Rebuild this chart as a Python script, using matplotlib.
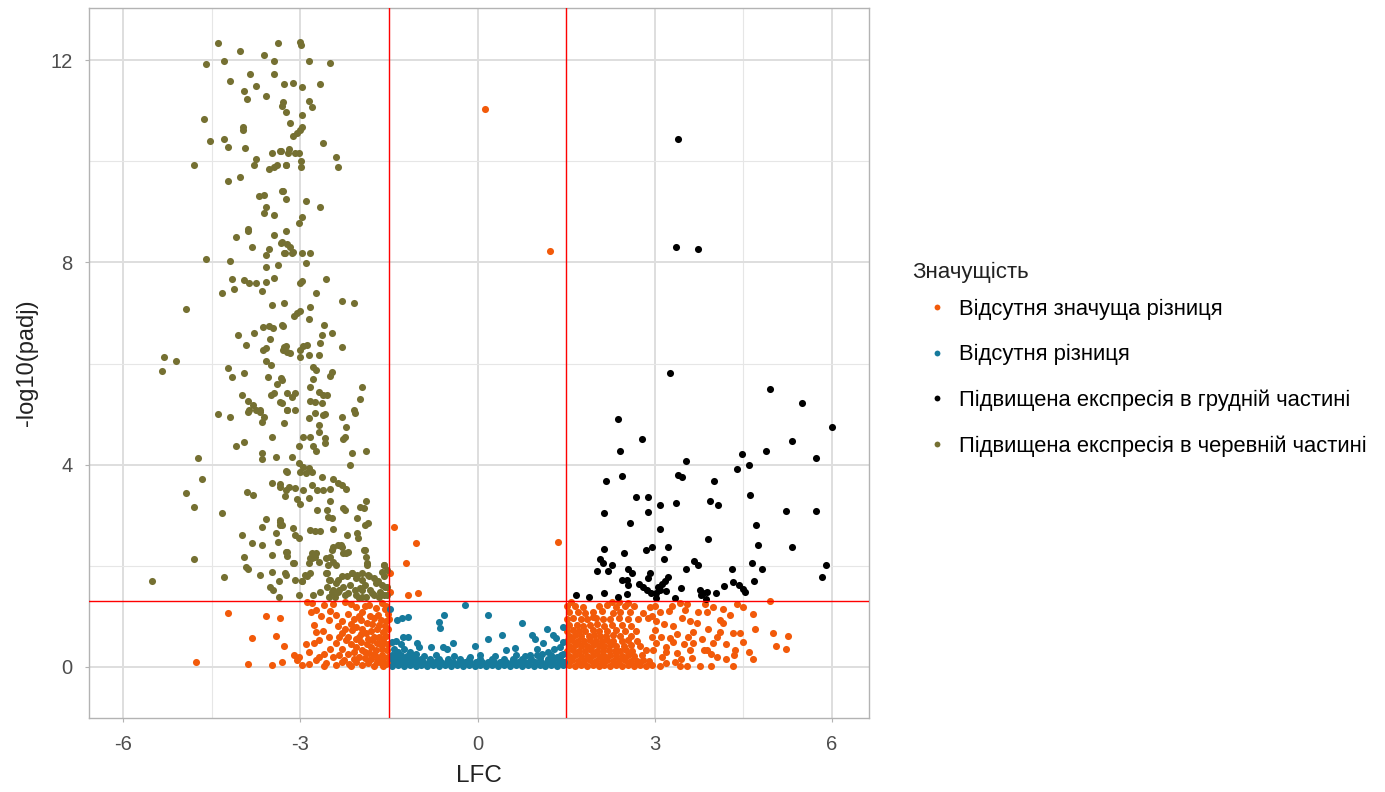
import numpy as np
import matplotlib
matplotlib.use("Agg")
import matplotlib.pyplot as plt
from matplotlib.lines import Line2D

plt.rcParams['font.family'] = ['Liberation Sans', 'DejaVu Sans']
plt.rcParams['axes.unicode_minus'] = False

# --- data (LFC, -log10(padj)) ------------------------------------------------

LFC_CUT = 1.5
P_CUT = 1.301

# upregulated in abdominal part (olive)
abdomen_up = [
    (-4.39, 12.34), (-4.02, 12.18), (-3.38, 12.34), (-3.61, 12.11), (-3.44, 11.98), (-4.60, 11.92),
    (-4.29, 11.98), (-3.85, 11.72), (-3.44, 11.72), (-4.19, 11.59), (-3.75, 11.49), (-3.28, 11.53),
    (-3.95, 11.39), (-3.90, 11.23), (-3.58, 11.28), (-3.31, 11.09), (-3.24, 10.97), (-4.63, 10.83),
    (-3.98, 10.68), (-3.97, 10.62), (-4.53, 10.40), (-4.29, 10.44), (-4.22, 10.29), (-3.93, 10.26),
    (-3.48, 10.16), (-3.33, 10.21), (-3.21, 10.17), (-3.75, 10.04), (-3.78, 9.92), (-4.80, 9.92),
    (-3.53, 9.85), (-3.44, 9.89), (-3.40, 9.92), (-3.25, 9.92), (-4.02, 9.69), (-4.22, 9.61),
    (-3.31, 9.41), (-3.24, 9.25), (-3.70, 9.32), (-3.61, 9.33), (-3.59, 9.10), (-3.61, 8.98),
    (-3.44, 8.94), (-3.88, 8.66),
    (-3.00, 12.36), (-2.99, 12.30), (-2.86, 11.98), (-2.50, 11.95), (-3.12, 11.55), (-2.98, 11.47),
    (-2.67, 11.53), (-3.29, 11.18), (-2.85, 11.20), (-2.81, 11.07), (-2.97, 10.91), (-3.17, 10.76),
    (-2.97, 10.68), (-3.00, 10.62), (-3.06, 10.56), (-3.12, 10.50), (-2.61, 10.37), (-3.34, 10.21),
    (-3.19, 10.24), (-3.09, 10.17), (-3.03, 10.16), (-3.24, 9.92), (-2.99, 10.01), (-2.99, 9.89),
    (-2.40, 10.09), (-2.36, 9.89), (-3.30, 9.41), (-2.90, 9.21), (-2.67, 9.10), (-2.98, 8.90),
    (-3.03, 8.78),
    (-3.88, 8.62), (-4.09, 8.51), (-3.82, 8.31), (-3.44, 8.54), (-3.25, 8.62), (-3.33, 8.38),
    (-3.28, 8.18), (-3.53, 8.26), (-3.58, 8.15), (-4.60, 8.07), (-4.19, 8.03), (-3.58, 7.90),
    (-3.38, 7.95), (-4.16, 7.67), (-4.12, 7.47), (-3.95, 7.65), (-3.87, 7.60), (-3.75, 7.59),
    (-3.58, 7.62), (-3.44, 7.70), (-4.33, 7.40), (-3.65, 7.43), (-4.94, 7.08), (-3.48, 7.16),
    (-3.28, 7.20), (-3.64, 6.73), (-3.53, 6.74), (-3.47, 6.70), (-3.31, 6.76), (-4.05, 6.56),
    (-3.78, 6.60), (-3.51, 6.48), (-3.92, 6.37), (-3.64, 6.27), (-3.58, 6.30), (-3.28, 6.33),
    (-3.22, 6.23), (-5.31, 6.13), (-5.11, 6.05), (-5.35, 5.85), (-3.58, 6.05), (-3.50, 5.97),
    (-4.23, 5.91), (-4.16, 5.74), (-3.96, 5.82), (-3.55, 5.74), (-3.33, 5.71), (-3.39, 5.60),
    (-3.99, 5.38), (-3.50, 5.38), (-3.44, 5.41), (-3.34, 5.23), (-3.22, 5.41), (-3.88, 5.25),
    (-3.81, 5.18), (-3.75, 5.08), (-3.69, 5.08), (-3.87, 5.08), (-4.39, 5.00), (-4.19, 4.95),
    (-3.22, 5.08),
    (-3.31, 8.41), (-3.23, 8.36), (-3.17, 8.31), (-3.12, 8.21), (-3.26, 8.19), (-3.14, 8.18),
    (-2.98, 8.19), (-2.84, 8.19), (-2.90, 7.98), (-2.98, 7.63), (-3.00, 7.59), (-2.56, 7.67),
    (-2.73, 7.40), (-2.30, 7.24), (-2.09, 7.20), (-2.84, 7.11), (-3.00, 7.04), (-3.06, 6.99),
    (-3.10, 6.94), (-2.86, 6.88), (-3.30, 6.74), (-2.60, 6.76), (-2.64, 6.56), (-2.47, 6.60),
    (-2.67, 6.40), (-2.30, 6.32), (-3.24, 6.35), (-3.29, 6.27), (-3.17, 6.21), (-2.95, 6.35),
    (-2.89, 6.37), (-3.00, 6.27), (-3.00, 6.12), (-2.86, 6.17), (-2.69, 6.17), (-2.78, 5.94),
    (-2.73, 5.87), (-2.47, 5.84), (-2.50, 5.75), (-3.31, 5.67), (-2.78, 5.69), (-2.84, 5.54),
    (-1.96, 5.54), (-2.69, 5.44), (-2.61, 5.38), (-2.55, 5.38), (-3.09, 5.41), (-3.14, 5.34),
    (-1.99, 5.29), (-2.84, 5.25), (-2.75, 5.23), (-2.64, 5.21), (-3.31, 5.21), (-3.23, 5.09),
    (-3.09, 5.09), (-2.75, 5.03), (-2.61, 4.98), (-2.30, 4.95), (-2.09, 5.08), (-2.07, 5.02),
    (-3.88, 5.05), (-3.69, 5.05), (-3.61, 4.95), (-3.65, 4.85), (-3.28, 4.82), (-3.48, 4.55),
    (-4.09, 4.36), (-3.95, 4.45), (-3.65, 4.24), (-3.65, 4.11), (-3.41, 4.15), (-4.74, 4.14),
    (-3.25, 3.88), (-4.66, 3.71), (-4.94, 3.43), (-4.80, 3.16), (-4.33, 3.04), (-3.48, 3.64),
    (-3.35, 3.55), (-3.25, 3.50), (-3.26, 3.38), (-3.90, 3.45), (-3.81, 3.40), (-3.58, 2.92),
    (-3.65, 2.76), (-3.35, 2.87), (-3.35, 2.81), (-3.99, 2.60), (-3.42, 2.64), (-3.38, 2.48),
    (-3.82, 2.45), (-3.65, 2.41), (-3.25, 2.28), (-3.22, 2.19), (-3.95, 2.18), (-3.48, 2.21),
    (-4.80, 2.13), (-3.92, 1.98), (-3.88, 1.93), (-4.29, 1.77), (-5.51, 1.69), (-3.68, 1.82),
    (-3.48, 1.88), (-3.25, 1.82), (-3.37, 1.69), (-3.51, 1.59), (-3.47, 1.52), (-3.37, 1.39),
    (-2.85, 4.92), (-2.59, 5.00), (-2.69, 4.78), (-2.69, 4.65), (-2.23, 4.75), (-2.24, 4.55),
    (-2.28, 4.50), (-2.95, 4.55), (-2.84, 4.55), (-3.03, 4.36), (-2.78, 4.36), (-2.73, 4.26),
    (-2.59, 4.52), (-2.58, 4.43), (-2.13, 4.24), (-1.89, 4.27), (-2.16, 3.99), (-3.14, 4.16),
    (-3.03, 4.04), (-2.95, 3.96), (-2.86, 3.93), (-2.81, 3.86), (-2.90, 3.83), (-3.00, 3.86),
    (-3.23, 3.86), (-2.64, 3.76), (-2.44, 3.71), (-2.36, 3.63), (-2.30, 3.60), (-2.23, 3.51),
    (-3.34, 3.62), (-3.20, 3.55), (-3.09, 3.53), (-2.95, 3.50), (-2.81, 3.60), (-2.72, 3.49),
    (-2.61, 3.50), (-2.50, 3.51), (-3.06, 3.32), (-3.00, 3.22), (-2.85, 3.35), (-2.50, 3.29),
    (-1.89, 3.29), (-1.93, 3.14), (-1.99, 3.17), (-2.72, 3.10), (-2.55, 3.10), (-2.53, 2.97),
    (-2.47, 2.94), (-2.27, 3.14), (-2.24, 3.10), (-3.34, 2.91), (-3.31, 2.81), (-2.04, 2.94),
    (-1.85, 2.85), (-1.90, 2.81), (-3.12, 2.74), (-3.09, 2.61), (-3.03, 2.54), (-2.84, 2.71),
    (-2.75, 2.69), (-2.67, 2.69), (-2.45, 2.72), (-2.21, 2.61), (-2.04, 2.64), (-2.02, 2.54),
    (-2.44, 2.38), (-2.36, 2.41), (-2.30, 2.38), (-2.27, 2.25), (-2.19, 2.28), (-3.23, 2.28),
    (-3.12, 2.05), (-2.81, 2.25), (-2.84, 2.15), (-2.86, 2.05), (-2.75, 2.18), (-2.69, 2.08),
    (-2.50, 2.18), (-2.44, 2.08), (-2.53, 2.02), (-1.90, 2.31), (-1.89, 2.18), (-1.88, 2.05),
    (-1.59, 2.02), (-1.54, 1.92), (-2.74, 2.25), (-2.80, 2.15), (-3.11, 2.05), (-2.56, 2.15),
    (-2.46, 2.31), (-2.32, 2.41), (-2.23, 2.25), (-2.40, 2.02), (-2.57, 1.85), (-1.92, 2.31),
    (-1.87, 2.02), (-1.58, 2.02), (-1.61, 1.88),
    (-3.26, 1.85), (-3.09, 1.72), (-2.98, 1.69), (-2.92, 1.82), (-2.84, 1.85), (-2.55, 1.85),
    (-2.50, 1.72), (-2.36, 1.72), (-2.21, 1.79), (-2.13, 1.85), (-2.04, 1.82), (-1.96, 1.86),
    (-1.85, 1.82), (-1.76, 1.75), (-1.68, 1.69), (-1.59, 1.79), (-2.88, 1.79), (-2.97, 1.69),
    (-2.51, 1.72), (-2.40, 1.65), (-2.29, 1.79), (-2.12, 1.85), (-2.06, 1.75), (-1.95, 1.72),
    (-1.84, 1.79), (-1.72, 1.65), (-1.61, 1.62), (-1.53, 1.59),
    (-3.03, 1.42), (-2.55, 1.59), (-2.44, 1.52), (-2.36, 1.49), (-2.27, 1.59), (-2.16, 1.62),
    (-2.07, 1.52), (-1.99, 1.56), (-1.90, 1.62), (-1.82, 1.52), (-1.76, 1.42), (-1.65, 1.49),
    (-1.57, 1.59), (-1.54, 1.42), (-2.41, 1.39), (-2.24, 1.42), (-1.96, 1.39), (-2.67, 1.49),
    (-2.78, 1.42), (-2.46, 1.49), (-2.35, 1.52), (-2.20, 1.46), (-2.06, 1.42), (-1.95, 1.52),
    (-1.78, 1.46), (-1.67, 1.39), (-1.58, 1.42), (-2.51, 1.39), (-2.01, 1.36), (-1.89, 1.38),
]

# upregulated in chest part (black)
chest_up = [
    (3.39, 10.43), (3.36, 8.31), (3.74, 8.26),
    (3.26, 5.81), (4.95, 5.49), (5.50, 5.21), (6.01, 4.74), (2.38, 4.90), (2.79, 4.50),
    (2.41, 4.27), (2.45, 3.78), (2.18, 3.68), (3.53, 4.07), (3.39, 3.80), (3.47, 3.75),
    (4.00, 3.68), (4.39, 3.91), (4.48, 4.22), (4.59, 3.99), (4.89, 4.27), (5.33, 4.47),
    (5.73, 4.14), (2.69, 3.37), (2.89, 3.37), (2.14, 3.04), (2.89, 3.07), (3.09, 3.20),
    (3.36, 3.24), (3.94, 3.28), (4.08, 3.20), (4.62, 3.40), (2.58, 2.84), (3.09, 2.72),
    (4.72, 2.81), (5.23, 3.08), (5.73, 3.08), (3.91, 2.52), (4.75, 2.41), (5.33, 2.37),
    (2.14, 2.33), (2.48, 2.26), (2.85, 2.31), (2.95, 2.37), (3.23, 2.37), (2.07, 2.13),
    (2.13, 2.06), (2.27, 2.02), (2.21, 1.90), (2.03, 1.90), (3.16, 2.13), (3.67, 2.10),
    (3.74, 2.02), (3.53, 1.93), (4.31, 1.93), (4.65, 2.05), (4.82, 1.93), (5.90, 2.01),
    (5.84, 1.77), (2.55, 1.93), (2.61, 1.85), (2.92, 1.85), (2.89, 1.75), (2.44, 1.71),
    (2.53, 1.72), (2.55, 1.62), (3.23, 1.77), (3.17, 1.69), (3.13, 1.64), (2.74, 1.64),
    (2.80, 1.58), (2.87, 1.52), (2.93, 1.47), (3.06, 1.58), (3.09, 1.52), (3.20, 1.51),
    (3.03, 1.46), (3.44, 1.57), (3.77, 1.52), (3.82, 1.46), (3.88, 1.49), (3.79, 1.42),
    (4.17, 1.61), (4.33, 1.67), (4.43, 1.62), (4.49, 1.54), (4.53, 1.49), (4.68, 1.70),
    (4.04, 1.46), (2.15, 1.47), (1.67, 1.42), (1.88, 1.39), (2.38, 1.39), (2.53, 1.44),
    (3.02, 1.36), (3.34, 1.36), (3.87, 1.34),
]

# no significant difference (orange)
no_sig_diff = [
    (0.12, 11.03), (1.23, 8.22), (1.37, 2.48), (-1.04, 2.45), (-1.21, 2.05), (-1.42, 2.77),
    (-1.48, 1.85), (-1.48, 1.49), (-1.17, 1.42), (-1.00, 1.46), (4.95, 1.31),
    # left side
    (-4.22, 1.06), (-3.59, 1.01), (-3.35, 0.97), (-3.82, 0.58), (-3.42, 0.62), (-3.28, 0.42),
    (-4.77, 0.10), (-3.88, 0.06), (-3.48, 0.03), (-3.31, 0.10), (-3.11, 0.24), (-3.02, 0.20),
    (-2.97, 0.04), (-3.05, 0.14), (-2.80, 1.26), (-2.74, 1.13), (-2.82, 1.09), (-2.77, 0.83),
    (-2.74, 0.70), (-2.68, 0.53), (-2.77, 0.47), (-2.68, 0.20), (-2.74, 0.14), (-2.51, 0.93),
    (-2.40, 1.03), (-2.37, 0.80), (-2.29, 0.67), (-2.51, 0.60), (-2.40, 0.47), (-2.23, 0.53),
    (-2.35, 0.24), (-2.26, 0.14), (-2.40, 0.04), (-2.57, 0.07), (-2.06, 1.19), (-1.95, 1.09),
    (-1.84, 1.23), (-1.72, 1.16), (-1.61, 1.26), (-1.98, 0.93), (-1.87, 0.86), (-1.75, 0.96),
    (-1.67, 0.83), (-1.55, 0.90), (-2.12, 0.73), (-2.01, 0.60), (-1.89, 0.67), (-1.78, 0.53),
    (-1.67, 0.60), (-1.58, 0.47), (-2.06, 0.40), (-1.95, 0.34), (-1.84, 0.27), (-1.72, 0.34),
    (-1.61, 0.24), (-1.53, 0.34), (-2.18, 0.05), (-2.05, 0.10), (-1.95, 0.03), (-1.85, 0.08),
    (-1.75, 0.02), (-1.65, 0.10), (-1.55, 0.05), (-2.10, 0.15), (-1.90, 0.18), (-1.70, 0.20),
    (-1.60, 0.15), (-2.15, 1.25), (-2.25, 1.28), (-2.45, 1.25), (-2.60, 1.22), (-2.88, 1.28),
    (-2.20, 1.05), (-2.30, 0.90), (-2.15, 0.85), (-2.05, 0.78), (-1.95, 0.75), (-1.80, 0.72),
    (-1.70, 0.75), (-1.60, 0.70), (-1.55, 0.62), (-1.52, 1.05), (-1.57, 1.15), (-1.68, 1.03),
    (-1.82, 1.00), (-1.90, 1.20), (-2.00, 1.00), (-2.10, 0.95), (-2.20, 0.60), (-2.15, 0.45),
    (-2.10, 0.30), (-2.20, 0.25), (-1.98, 0.50), (-1.88, 0.45), (-1.80, 0.40), (-1.65, 0.45),
    (-1.60, 0.55), (-1.52, 0.20), (-1.52, 0.45), (-1.52, 0.75), (-1.55, 1.20), (-1.62, 0.35),
    (-1.70, 0.10), (-1.80, 0.15), (-2.00, 0.20), (-2.30, 0.35), (-2.45, 0.20), (-2.50, 0.35),
    (-2.60, 0.25), (-2.85, 0.30), (-2.90, 0.45), (-2.62, 0.72), (-2.65, 1.00), (-2.50, 1.10),
    (-2.85, 0.05), (-2.30, 0.10), (-2.05, 0.55), (-1.75, 0.60), (-1.90, 0.30), (-1.60, 0.02),
    (-2.15, 0.02), (-2.60, 0.02), (-1.50, 0.10), (-1.50, 0.95), (-1.56, 0.81), (-1.63, 0.92),
    (-1.78, 0.85), (-1.85, 0.55), (-1.98, 0.65), (-2.25, 0.75), (-2.35, 0.60), (-1.70, 0.48),
    (-1.75, 0.25),
    # right side, sparse part
    (5.01, 0.68), (5.26, 0.61), (5.05, 0.42), (5.23, 0.35), (4.66, 0.15), (4.49, 1.19),
    (4.66, 1.05), (4.27, 1.03), (4.33, 0.68), (4.44, 0.68), (4.36, 0.34), (4.34, 0.24),
    (4.32, 0.02), (3.99, 1.19), (3.88, 1.09), (4.10, 0.93), (4.16, 0.86), (4.10, 0.70),
    (4.06, 0.60), (3.98, 0.47), (3.88, 0.34), (3.83, 0.34), (4.05, 0.20), (3.96, 0.02),
    (3.77, 0.02), (3.74, 1.09), (3.71, 0.86), (3.65, 0.70), (3.57, 0.60), (3.65, 0.47),
    (3.60, 0.34), (3.63, 0.17), (3.54, 0.02), (3.43, 0.02), (3.34, 0.10), (3.37, 0.27),
    (3.43, 1.26), (3.51, 1.13), (3.46, 0.96), (3.31, 0.80), (3.26, 0.57), (3.19, 0.40),
    (3.31, 0.50), (3.12, 0.20), (3.20, 0.07), (3.09, 0.02), (3.09, 1.09), (3.03, 0.90),
    (3.00, 0.73), (2.95, 0.60), (3.03, 0.48), (2.98, 0.34), (3.15, 0.85), (3.25, 1.10),
    (3.00, 1.20), (3.38, 0.65), (3.50, 0.45), (3.45, 0.15), (3.20, 0.30), (3.60, 0.90),
    (3.80, 0.55), (3.90, 0.75), (4.20, 0.45), (4.20, 0.15), (4.50, 0.50), (4.60, 0.30),
    (4.70, 0.75), (3.95, 0.25), (3.10, 0.60), (3.30, 1.20), (2.95, 1.00), (3.55, 1.25),
    (3.85, 1.25), (4.40, 1.25), (4.15, 1.15),
    # right side, dense part
    (1.55, 0.03), (1.65, 0.02), (1.75, 0.04), (1.85, 0.02), (1.95, 0.03), (2.05, 0.02),
    (2.15, 0.04), (2.25, 0.02), (2.35, 0.03), (2.45, 0.02), (2.55, 0.04), (2.65, 0.02),
    (2.75, 0.03), (2.85, 0.02), (2.95, 0.04),
    (1.52, 0.12), (1.60, 0.13), (1.70, 0.11), (1.80, 0.12), (1.90, 0.13), (2.00, 0.11),
    (2.10, 0.12), (2.20, 0.13), (2.30, 0.11), (2.40, 0.12), (2.50, 0.13), (2.60, 0.11),
    (2.70, 0.12), (2.80, 0.14), (2.90, 0.11),
    (1.55, 0.22), (1.65, 0.23), (1.75, 0.21), (1.85, 0.22), (1.95, 0.24), (2.05, 0.21),
    (2.15, 0.22), (2.25, 0.23), (2.35, 0.21), (2.45, 0.22), (2.55, 0.24), (2.65, 0.21),
    (2.78, 0.23),
    (1.52, 0.32), (1.62, 0.33), (1.72, 0.31), (1.82, 0.32), (1.92, 0.34), (2.02, 0.31),
    (2.12, 0.32), (2.22, 0.33), (2.32, 0.31), (2.42, 0.32), (2.52, 0.34), (2.62, 0.31),
    (2.85, 0.33),
    (1.55, 0.42), (1.65, 0.43), (1.75, 0.41), (1.85, 0.42), (1.95, 0.44), (2.05, 0.41),
    (2.15, 0.42), (2.25, 0.43), (2.35, 0.41), (2.48, 0.42), (2.60, 0.44), (2.75, 0.41),
    (1.52, 0.52), (1.60, 0.53), (1.70, 0.51), (1.80, 0.52), (1.90, 0.54), (2.00, 0.51),
    (2.10, 0.52), (2.20, 0.53), (2.30, 0.51), (2.45, 0.52), (2.55, 0.54), (2.70, 0.51),
    (1.55, 0.62), (1.65, 0.63), (1.75, 0.61), (1.88, 0.62), (1.98, 0.64), (2.08, 0.61),
    (2.18, 0.62), (2.30, 0.63), (2.42, 0.61), (2.60, 0.62),
    (1.52, 0.72), (1.62, 0.73), (1.72, 0.71), (1.82, 0.72), (1.95, 0.74), (2.05, 0.71),
    (2.20, 0.72), (2.35, 0.73), (2.50, 0.71), (2.68, 0.72),
    (1.55, 0.82), (1.68, 0.83), (1.78, 0.81), (1.90, 0.82), (2.02, 0.84), (2.15, 0.81),
    (2.28, 0.82), (2.45, 0.83), (2.60, 0.81),
    (1.52, 0.95), (1.62, 0.96), (1.75, 0.94), (1.85, 0.95), (2.00, 0.97), (2.12, 0.94),
    (2.25, 0.95), (2.40, 0.96), (2.55, 0.94), (2.72, 0.95), (2.88, 0.97),
    (1.55, 1.08), (1.70, 1.09), (1.82, 1.07), (1.95, 1.08), (2.10, 1.10), (2.30, 1.07),
    (2.42, 1.08), (2.58, 1.09), (2.80, 1.07),
    (1.52, 1.20), (1.65, 1.21), (1.78, 1.19), (2.05, 1.20), (2.20, 1.22), (2.35, 1.19),
    (2.50, 1.20), (2.65, 1.21), (2.92, 1.19),
    (1.58, 1.28), (2.28, 1.28), (2.40, 1.29), (2.55, 1.27), (1.96, 0.99),
]

# no difference (blue)
no_diff = [
    (-0.21, 1.23), (-1.49, 1.14), (-1.37, 0.93), (-1.28, 0.96), (-1.17, 0.98), (-0.56, 1.03),
    (0.17, 1.03), (-0.66, 0.88), (-0.63, 0.76), (0.76, 0.86), (1.17, 0.75), (1.44, 0.79),
    (-1.27, 0.60), (-1.17, 0.60), (0.17, 0.55), (0.41, 0.63), (0.93, 0.63), (0.97, 0.55),
    (1.28, 0.63), (1.33, 0.57), (-1.03, 0.48), (-0.99, 0.40), (-0.41, 0.48), (-0.05, 0.42),
    (-0.78, 0.40), (-0.58, 0.40), (-0.52, 0.35), (0.49, 0.34), (0.63, 0.37), (1.00, 0.35),
    (1.11, 0.47), (0.04, 0.24), (-0.13, 0.20), (0.89, 0.24),
    (-1.45, 0.50), (-1.38, 0.52), (-1.30, 0.45), (-1.42, 0.35), (-1.35, 0.30), (-1.25, 0.35),
    (-1.15, 0.30), (-1.45, 0.20), (-1.05, 0.25), (1.45, 0.50), (1.40, 0.40), (1.30, 0.35),
    (1.20, 0.30), (1.45, 0.25), (1.35, 0.20), (1.10, 0.25),
    (-1.45, 0.02), (-1.35, 0.03), (-1.25, 0.02), (-1.15, 0.03), (-1.05, 0.02), (-0.95, 0.03),
    (-0.85, 0.02), (-0.75, 0.03), (-0.65, 0.02), (-0.55, 0.03), (-0.45, 0.02), (-0.35, 0.03),
    (-0.25, 0.02), (-0.15, 0.03), (-0.05, 0.02), (0.05, 0.03), (0.15, 0.02), (0.25, 0.03),
    (0.35, 0.02), (0.45, 0.03), (0.55, 0.02), (0.65, 0.03), (0.75, 0.02), (0.85, 0.03),
    (0.95, 0.02), (1.05, 0.03), (1.15, 0.02), (1.25, 0.03), (1.35, 0.02), (1.45, 0.03),
    (-1.42, 0.09), (-1.32, 0.10), (-1.22, 0.09), (-1.12, 0.10), (-1.02, 0.09), (-0.92, 0.10),
    (-0.82, 0.09), (-0.72, 0.10), (-0.62, 0.09), (-0.52, 0.10), (-0.42, 0.09), (-0.32, 0.10),
    (-0.22, 0.09), (-0.12, 0.10), (-0.02, 0.09), (0.08, 0.10), (0.18, 0.09), (0.28, 0.10),
    (0.38, 0.09), (0.48, 0.10), (0.58, 0.09), (0.68, 0.10), (0.78, 0.09), (0.88, 0.10),
    (0.98, 0.09), (1.08, 0.10), (1.18, 0.09), (1.28, 0.10), (1.38, 0.09), (1.46, 0.10),
    (-1.45, 0.16), (-1.35, 0.17), (-1.25, 0.16), (-1.15, 0.17), (-1.05, 0.16), (-0.95, 0.15),
    (-0.80, 0.16), (-0.65, 0.15), (-0.50, 0.16), (-0.30, 0.15), (-0.15, 0.16), (0.05, 0.15),
    (0.25, 0.16), (0.45, 0.15), (0.60, 0.16), (0.75, 0.15), (0.90, 0.16), (1.05, 0.17),
    (1.20, 0.16), (1.30, 0.17), (1.40, 0.16),
    (-1.45, 0.23), (-1.38, 0.24), (-1.30, 0.23), (-1.20, 0.22), (-1.10, 0.23), (-0.90, 0.22),
    (-0.70, 0.23), (-0.40, 0.22), (0.30, 0.22), (0.65, 0.23), (0.80, 0.22), (1.00, 0.23),
    (1.25, 0.24), (1.42, 0.23),
]

group_labels = [
    "Відсутня значуща різниця",
    "Відсутня різниця",
    "Підвищена експресія в грудній частині",
    "Підвищена експресія в черевній частині",
]
group_colors = ["#F25A0A", "#167A9C", "#000000", "#757032"]
groups = [no_sig_diff, no_diff, chest_up, abdomen_up]

# --- figure ------------------------------------------------------------------

fig = plt.figure(figsize=(13.85, 7.92), dpi=100)
ax = fig.add_axes([89 / 1385, 74 / 792, 780 / 1385, 710 / 792])

for pts, col in zip(groups, group_colors):
    arr = np.array(pts)
    ax.scatter(arr[:, 0], arr[:, 1], s=26, color=col, linewidths=0, zorder=3)

ax.axvline(-LFC_CUT, color="red", lw=1.0, zorder=4)
ax.axvline(LFC_CUT, color="red", lw=1.0, zorder=4)
ax.axhline(P_CUT, color="red", lw=1.0, zorder=4)

ax.set_xlim(-6.58, 6.63)
ax.set_ylim(-1.01, 13.03)
ax.set_xticks([-6, -3, 0, 3, 6])
ax.set_xticks([-4.5, -1.5, 1.5, 4.5], minor=True)
ax.set_yticks([0, 4, 8, 12])
ax.set_yticks([2, 6, 10], minor=True)
ax.grid(which="major", color="#dedede", lw=1.4, zorder=0)
ax.grid(which="minor", color="#e6e6e6", lw=0.8, zorder=0)
ax.set_axisbelow(True)

for sp in ax.spines.values():
    sp.set_color("#b3b3b3")
    sp.set_linewidth(1.0)
ax.tick_params(which="major", length=3, width=0.8, color="#b3b3b3",
               labelsize=14.5, labelcolor="#4d4d4d")
ax.tick_params(axis="x", which="major", pad=9)
ax.tick_params(axis="y", which="major", pad=9)
ax.tick_params(which="minor", length=0)

ax.set_xlabel("LFC", fontsize=17.5, color="#222222", labelpad=8)
ax.set_ylabel("-log10(padj)", fontsize=17, color="#222222", labelpad=9)

# legend: title placed separately, entries below it
fig.text(912 / 1385, 1 - 272 / 792, "Значущість", fontsize=16, color="#222222",
         ha="left", va="center")
handles = [Line2D([], [], marker="o", ls="", markersize=4.2, color=c, markeredgewidth=0)
           for c in group_colors]
leg = ax.legend(handles, group_labels, loc="upper left",
                bbox_to_anchor=(926 / 1385, 1 - 299 / 792), bbox_transform=fig.transFigure,
                frameon=False, fontsize=15.8, labelspacing=1.1, handletextpad=0.5,
                handlelength=1.0, borderaxespad=0, borderpad=0)

fig.savefig("out.png", dpi=100)
